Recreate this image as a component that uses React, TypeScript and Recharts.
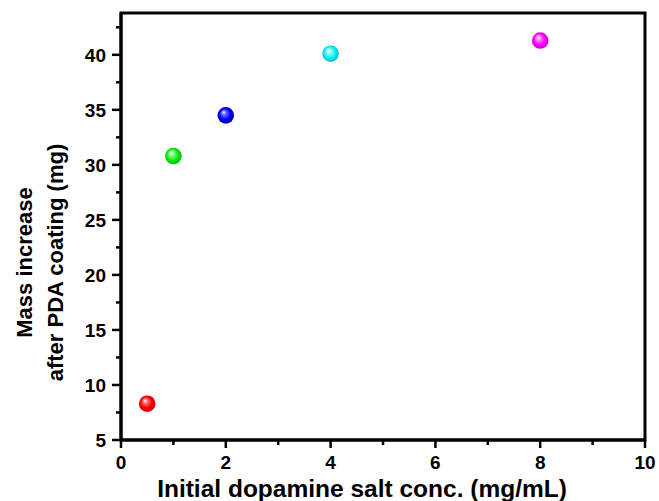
import React from "react";
import { ScatterChart, Scatter, XAxis, YAxis, ReferenceArea, Label } from "recharts";

// data
const concentrations = [0.5, 1, 2, 4, 8];
const massIncrease = [8.3, 30.8, 34.5, 40.1, 41.3];

const xMajor = [0, 2, 4, 6, 8, 10];
const xMinor = [1, 3, 5, 7, 9];
const yMajor = [5, 10, 15, 20, 25, 30, 35, 40];
const yMinor = [7.5, 12.5, 17.5, 22.5, 27.5, 32.5, 37.5, 42.5];

const X_DOMAIN: [number, number] = [0, 10];
const Y_DOMAIN: [number, number] = [5, 43.8];

const COLORS = ["#ff0000", "#11ee11", "#0000ff", "#11eeee", "#ff00ff"];
const LIGHT = ["#ff8080", "#90ff90", "#7070ff", "#a0ffff", "#ff90ff"];
const DARK = ["#c00000", "#00b000", "#0000a0", "#00b8c0", "#c000c0"];

const FONT = "'Liberation Sans', Arial, sans-serif";

const table = concentrations.map((x, i) => ({ x, y: massIncrease[i], i }));

const Ball = (props: any) => {
  const { cx, cy, payload } = props;
  const i = payload.i;
  const id = `ball-${i}`;
  return (
    <g>
      <defs>
        <radialGradient id={id} cx="50%" cy="50%" r="55%" fx="36%" fy="30%">
          <stop offset="0%" stopColor="#ffffff" />
          <stop offset="22%" stopColor={LIGHT[i]} />
          <stop offset="60%" stopColor={COLORS[i]} />
          <stop offset="100%" stopColor={DARK[i]} />
        </radialGradient>
      </defs>
      <circle cx={cx} cy={cy} r={8.3} fill={`url(#${id})`} />
    </g>
  );
};

const XTick = (props: any) => {
  const { x, y, payload } = props;
  const major = xMajor.includes(payload.value);
  return (
    <g>
      <line x1={x} x2={x} y1={y} y2={y + (major ? 8 : 5)} stroke="#000" strokeWidth={2.5} />
      {major && (
        <text x={x} y={y + 29} textAnchor="middle" fontFamily={FONT} fontWeight="bold" fontSize={19} fill="#000">
          {payload.value}
        </text>
      )}
    </g>
  );
};

const YTick = (props: any) => {
  const { x, y, payload } = props;
  const major = yMajor.includes(payload.value);
  return (
    <g>
      <line x1={x - (major ? 9 : 5)} x2={x} y1={y} y2={y} stroke="#000" strokeWidth={2.5} />
      {major && (
        <text x={x - 15} y={y} dy="0.36em" textAnchor="end" fontFamily={FONT} fontWeight="bold" fontSize={19} fill="#000">
          {payload.value}
        </text>
      )}
    </g>
  );
};

const XTitle = (p: any) => {
  const vb = p.viewBox;
  return (
    <text x={vb.x + vb.width / 2 - 21} y={vb.y + 57} textAnchor="middle" fontFamily={FONT} fontWeight="bold" fontSize={24.5} fill="#000">
      Initial dopamine salt conc. (mg/mL)
    </text>
  );
};

const YTitle = (p: any) => {
  const vb = p.viewBox;
  const cy = vb.y + vb.height / 2 + 36;
  const x1 = vb.x + vb.width - 89;
  const x2 = vb.x + vb.width - 58;
  return (
    <g fontFamily={FONT} fontWeight="bold" fontSize={22} fill="#000">
      <text x={x1} y={cy} textAnchor="middle" transform={`rotate(-90 ${x1} ${cy})`}>
        Mass increase
      </text>
      <text x={x2} y={cy} textAnchor="middle" transform={`rotate(-90 ${x2} ${cy})`}>
        after PDA coating (mg)
      </text>
    </g>
  );
};

export default function App() {
  return (
    <>
      <style>{"body { margin: 0; }"}</style>
      <ScatterChart width={659} height={501} margin={{ top: 13, right: 14, bottom: 0, left: 0 }}>
        <XAxis
          type="number"
          dataKey="x"
          domain={X_DOMAIN}
          ticks={[...xMajor, ...xMinor].sort((a, b) => a - b)}
          interval={0}
          allowDataOverflow
          height={61}
          tickSize={0}
          tickMargin={0}
          tick={<XTick />}
          axisLine={{ stroke: "#000", strokeWidth: 3 }}
        >
          <Label content={<XTitle />} />
        </XAxis>
        <YAxis
          type="number"
          dataKey="y"
          domain={Y_DOMAIN}
          ticks={[...yMajor, ...yMinor].sort((a, b) => a - b)}
          interval={0}
          allowDataOverflow
          width={121}
          tickSize={0}
          tickMargin={0}
          tick={<YTick />}
          axisLine={{ stroke: "#000", strokeWidth: 3 }}
        >
          <Label content={<YTitle />} />
        </YAxis>
        <ReferenceArea x1={X_DOMAIN[0]} x2={X_DOMAIN[1]} y1={Y_DOMAIN[0]} y2={Y_DOMAIN[1]} fill="none" stroke="#000" strokeWidth={3} fillOpacity={0} />
        <Scatter data={table} shape={<Ball />} isAnimationActive={false} />
      </ScatterChart>
    </>
  );
}
